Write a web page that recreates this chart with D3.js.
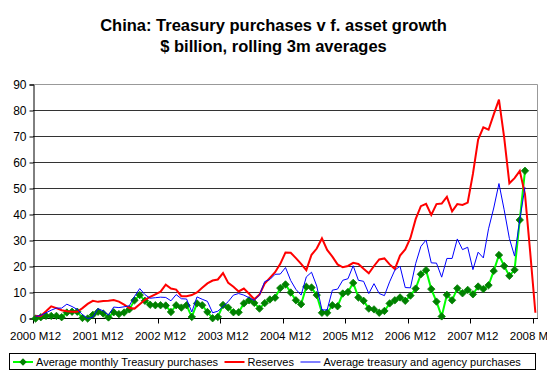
<!DOCTYPE html>
<html>
<head>
<meta charset="utf-8">
<script src="https://cdn.jsdelivr.net/npm/d3@7"></script>
<style>
body { margin: 0; background: #fff; }
svg { display: block; font-family: "Liberation Sans", Arial, sans-serif; }
</style>
</head>
<body>
<script>
// monthly values, $ billion (rolling 3m averages), first point = 2000 M12
const treasury = [
  0, 0.5, 1.0, 1.0, 1.0, 0.5, 2.3, 2.6, 2.6, 0.2, 0, 1.4,
  2.6, 1.9, 0.4, 2.4, 1.7, 2.3, 3.5, 7.0, 9.0, 6.8, 5.3, 5.1,
  5.1, 5.0, 2.5, 5.1, 4.2, 5.1, 0.6, 5.8, 5.1, 2.5, 0.1, 0.6,
  5.2, 4.2, 2.4, 2.4, 5.8, 7.0, 6.0, 3.8, 5.9, 7.3, 8.0, 11.7,
  13.1, 10.0, 7.0, 5.5, 12.2, 11.9, 9.0, 2.2, 2.2, 5.1, 4.7, 9.6,
  10.2, 13.7, 8.1, 6.8, 3.8, 3.5, 2.2, 2.9, 5.8, 7.0, 8.1, 6.8,
  8.8, 11.5, 17.0, 18.6, 11.3, 6.5, 0.8, 9.1, 7.0, 11.6, 9.7, 11.0,
  9.3, 12.3, 11.3, 12.8, 18.3, 24.4, 20.2, 16.4, 18.7, 37.9, 56.8
];
const reserves = [
  1.0, 1.0, 2.8, 4.7, 4.0, 3.2, 2.8, 2.6, 2.6, 4.0, 5.6, 6.8,
  6.4, 6.7, 6.8, 7.1, 6.5, 5.3, 4.0, 3.8, 5.5, 7.2, 8.3, 9.3,
  10.3, 13.0, 11.5, 11.1, 8.6, 8.6, 9.0, 10.0, 11.8, 13.5, 14.6, 15.0,
  17.5, 13.7, 12.2, 10.4, 11.5, 9.5, 7.4, 9.2, 13.4, 15.6, 17.8, 21.0,
  25.4, 25.3, 23.2, 21.0, 18.6, 24.5, 26.9, 30.8, 26.4, 23.8, 20.8, 19.7,
  20.2, 21.4, 21.0, 19.1, 17.4, 20.2, 22.7, 23.1, 20.8, 19.0, 24.2, 26.6,
  31.0, 38.2, 43.2, 44.1, 39.8, 44.0, 44.2, 46.8, 41.2, 44.0, 43.7, 44.6,
  55.6, 68.8, 73.5, 72.6, 78.5, 84.2, 69.7, 52.0, 54.0, 56.8, 47.8, 25.5,
  2.2
];
const agency = [
  0.8, 1.2, 2.2, 3.2, 4.0, 4.0, 5.5, 4.6, 3.5, 1.5, 0.0, 0.5,
  3.8, 2.9, 1.3, 4.4, 4.2, 4.5, 4.9, 8.5, 11.5, 9.2, 7.8, 8.0,
  8.2, 8.1, 6.8, 9.2, 7.6, 7.5, 2.5, 8.3, 7.4, 6.6, 2.2, 2.8,
  4.6, 6.5, 9.0, 9.6, 9.0, 8.0, 7.0, 9.0, 14.2, 15.0, 17.0, 17.1,
  19.6, 14.6, 11.2, 9.0, 16.0, 17.8, 12.5, 3.3, 3.3, 10.9, 11.3, 14.7,
  15.3, 20.3, 14.7, 14.3, 9.6, 13.4, 9.6, 8.8, 14.1, 18.6, 20.1, 11.9,
  11.8, 21.1, 27.7, 30.2, 21.4, 21.3, 15.9, 23.1, 23.1, 30.6, 26.5, 27.4,
  18.8, 25.5, 23.3, 34.5, 42.5, 51.9, 41.8, 30.8, 24.0, 38.0, 50.5
];
const tickLabels = ["2000 M12", "2001 M12", "2002 M12", "2003 M12", "2004 M12",
                    "2005 M12", "2006 M12", "2007 M12", "2008 M12"];
const yTicks = [0, 10, 20, 30, 40, 50, 60, 70, 80, 90];
const seriesNames = ["Average monthly Treasury purchases", "Reserves", "Average treasury and agency purchases"];

const w = 547, h = 374;
const svg = d3.select("body").append("svg")
    .attr("width", w)
    .attr("height", h);

// category labels, one per month starting 2000 M12
const months = reserves.map((d, i) => {
    const y = 2000 + Math.floor((i + 11) / 12);
    return y + " M" + ((i + 11) % 12 + 1);
});

const xScale = d3.scaleBand()
    .domain(months)
    .range([33, 538]);
const yScale = d3.scaleLinear()
    .domain([0, 90])
    .range([318.5, 84.5]);
const cx = (d, i) => xScale(months[i]) + xScale.bandwidth() / 2;

// title
svg.append("text")
    .attr("x", 273.5).attr("y", 31)
    .attr("text-anchor", "middle")
    .style("font-size", "16.5px").style("font-weight", "bold")
    .text("China: Treasury purchases v f. asset growth");
svg.append("text")
    .attr("x", 273.5).attr("y", 52)
    .attr("text-anchor", "middle")
    .style("font-size", "16.5px").style("font-weight", "bold")
    .text("$ billion, rolling 3m averages");

// gridlines
svg.selectAll(".grid")
    .data(yTicks.slice(1, -1))
    .enter().append("line")
    .attr("x1", 33).attr("x2", 538)
    .attr("y1", d => yScale(d)).attr("y2", d => yScale(d))
    .attr("stroke", "#333").attr("stroke-width", 1);

// plot border top / right
svg.append("path")
    .attr("d", `M33,${yScale(90)}H537.5V${yScale(0)}`)
    .attr("fill", "none").attr("stroke", "#999");

// y axis
const yAxis = d3.axisLeft(yScale).tickValues(yTicks).tickSize(4).tickPadding(3);
const gy = svg.append("g").attr("transform", "translate(33.5,0)").call(yAxis);
gy.select(".domain").attr("stroke", "#000");
gy.selectAll(".tick line").attr("stroke", "#000");
gy.selectAll("text").style("font-size", "12px").attr("fill", "#000")
    .attr("font-family", "Liberation Sans, Arial, sans-serif");

// x axis (ticks between categories, label every 12 months)
const tickIdx = tickLabels.map((d, k) => k * 12);
svg.append("line")
    .attr("x1", 33).attr("x2", 538)
    .attr("y1", yScale(0)).attr("y2", yScale(0))
    .attr("stroke", "#000");
svg.selectAll(".xtick")
    .data(tickIdx)
    .enter().append("line")
    .attr("x1", d => Math.round(xScale(months[d])) + 0.5)
    .attr("x2", d => Math.round(xScale(months[d])) + 0.5)
    .attr("y1", yScale(0)).attr("y2", yScale(0) + 5)
    .attr("stroke", "#000");
svg.selectAll(".xlab")
    .data(tickLabels)
    .enter().append("text")
    .attr("x", (d, k) => cx(null, tickIdx[k]))
    .attr("y", 340)
    .attr("text-anchor", "middle")
    .style("font-size", "11.5px")
    .text(d => d);

// series
const line = d3.line()
    .x(cx)
    .y(d => yScale(d));

svg.append("path")
    .datum(treasury)
    .attr("d", line)
    .attr("fill", "none").attr("stroke", "#00ff00").attr("stroke-width", 2);

const diamond = "M0,-3.7L3.7,0L0,3.7L-3.7,0Z";
svg.selectAll(".mk")
    .data(treasury)
    .enter().append("path")
    .attr("d", diamond)
    .attr("transform", (d, i) => `translate(${cx(d, i)},${yScale(d)})`)
    .attr("fill", "#008000").attr("stroke", "#008000").attr("stroke-width", 0.8);

svg.append("path")
    .datum(reserves)
    .attr("d", line)
    .attr("fill", "none").attr("stroke", "#ff0000").attr("stroke-width", 2);

svg.append("path")
    .datum(agency)
    .attr("d", line)
    .attr("fill", "none").attr("stroke", "#0000ff").attr("stroke-width", 1);

// legend
const legend = svg.append("g");
legend.append("rect")
    .attr("x", 9.5).attr("y", 353.5)
    .attr("width", 526).attr("height", 16)
    .attr("fill", "#fff").attr("stroke", "#000");
const colors = ["#00ff00", "#ff0000", "#0000ff"];
let lx = 13;
seriesNames.forEach((name, k) => {
    legend.append("line")
        .attr("x1", lx).attr("x2", lx + 20)
        .attr("y1", 362).attr("y2", 362)
        .attr("stroke", colors[k]).attr("stroke-width", k === 2 ? 1 : 2);
    if (k === 0) {
        legend.append("path").attr("d", diamond)
            .attr("transform", `translate(${lx + 10},362)`)
            .attr("fill", "#008000");
    }
    const t = legend.append("text")
        .attr("x", lx + 23).attr("y", 366)
        .style("font-size", "11px")
        .text(name);
    lx = lx + 23 + t.node().getComputedTextLength() + 6.5;
});
</script>
</body>
</html>
